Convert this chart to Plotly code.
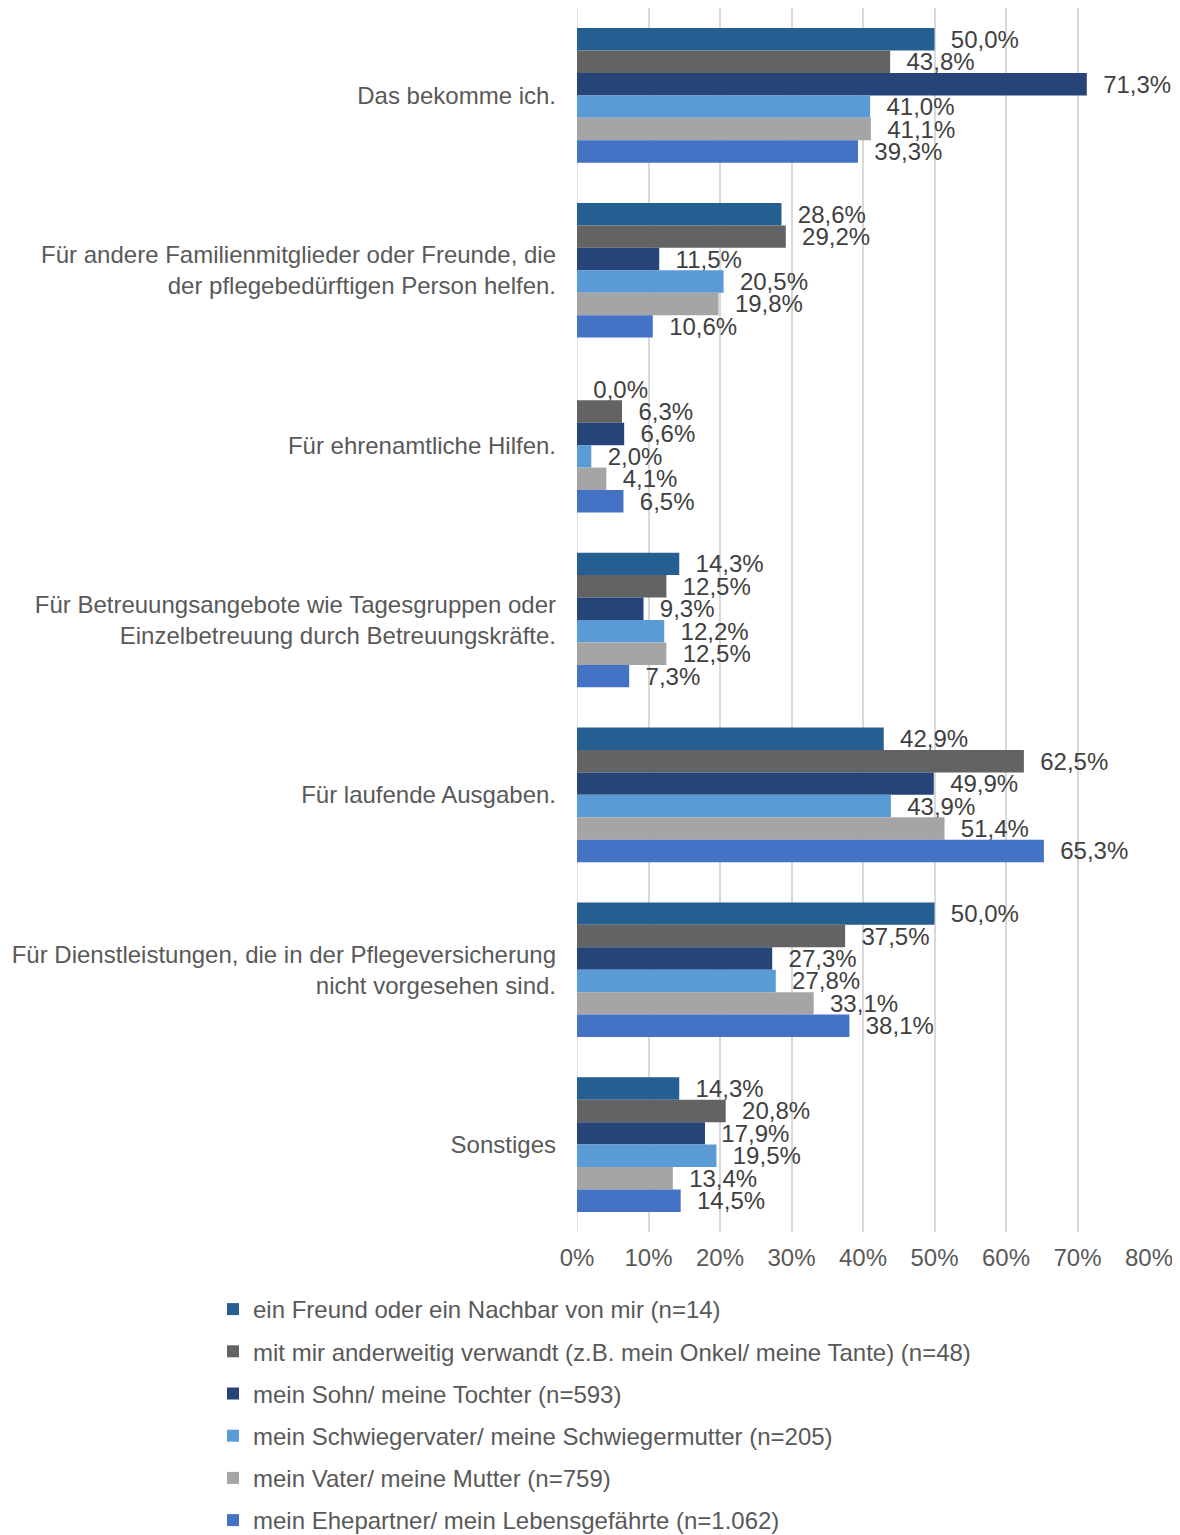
import plotly.graph_objects as go

categories = [
    "Das bekomme ich.",
    "Für andere Familienmitglieder oder Freunde, die<br>der pflegebedürftigen Person helfen.",
    "Für ehrenamtliche Hilfen.",
    "Für Betreuungsangebote wie Tagesgruppen oder<br>Einzelbetreuung durch Betreuungskräfte.",
    "Für laufende Ausgaben.",
    "Für Dienstleistungen, die in der Pflegeversicherung<br>nicht vorgesehen sind.",
    "Sonstiges",
]

series_names = [
    "ein Freund oder ein Nachbar von mir (n=14)",
    "mit mir anderweitig verwandt (z.B. mein Onkel/ meine Tante) (n=48)",
    "mein Sohn/ meine Tochter (n=593)",
    "mein Schwiegervater/ meine Schwiegermutter (n=205)",
    "mein Vater/ meine Mutter (n=759)",
    "mein Ehepartner/ mein Lebensgefährte (n=1.062)",
]

freund = [50.0, 28.6, 0.0, 14.3, 42.9, 50.0, 14.3]
verwandt = [43.8, 29.2, 6.3, 12.5, 62.5, 37.5, 20.8]
kind = [71.3, 11.5, 6.6, 9.3, 49.9, 27.3, 17.9]
schwieger = [41.0, 20.5, 2.0, 12.2, 43.9, 27.8, 19.5]
eltern = [41.1, 19.8, 4.1, 12.5, 51.4, 33.1, 13.4]
ehepartner = [39.3, 10.6, 6.5, 7.3, 65.3, 38.1, 14.5]

series_values = [freund, verwandt, kind, schwieger, eltern, ehepartner]
colors = ["#255E91", "#636363", "#264478", "#5B9BD5", "#A5A5A5", "#4472C4"]

tick_vals = [0, 10, 20, 30, 40, 50, 60, 70, 80]
tick_text = ["0%", "10%", "20%", "30%", "40%", "50%", "60%", "70%", "80%"]

FONT = "Liberation Sans, Arial, sans-serif"
FS = 24

fig = go.Figure()
for i, (name, vals, col) in enumerate(zip(series_names, series_values, colors)):
    fig.add_trace(go.Bar(
        y=categories, x=vals, name=name, orientation="h",
        marker=dict(color=col, line=dict(width=0)),
        texttemplate="\u00a0\u00a0%{x:.1f}%", textposition="outside",
        constraintext="none", cliponaxis=False,
        textfont=dict(family=FONT, size=FS, color="#404040"),
        legendgroup=f"g{i}",
    ))

fig.update_layout(
    width=1180, height=1535,
    barmode="group", bargap=0.23, bargroupgap=0,
    separators=",.",
    plot_bgcolor="white", paper_bgcolor="white",
    margin=dict(l=569, r=39, t=0, b=311, autoexpand=False),
    font=dict(family=FONT, size=FS, color="#595959"),
    xaxis=dict(range=[0, 80], tickmode="array", tickvals=tick_vals, ticktext=tick_text,
               showgrid=True, gridcolor="#D9D9D9", gridwidth=1.5,
               zeroline=False, showline=False, ticks="", automargin=False,
               ticklabelstandoff=9,
               tickfont=dict(size=FS, color="#595959")),
    yaxis=dict(autorange="reversed", showgrid=False, ticks="",
               showline=False, ticklabelstandoff=20, automargin=False,
               tickfont=dict(size=FS, color="#595959")),
    legend=dict(orientation="v", xref="container", yref="container",
                x=205 / 1180, y=1 - 1279 / 1535, xanchor="left", yanchor="top",
                traceorder="grouped", tracegroupgap=8,
                font=dict(size=FS, color="#595959"),
                itemwidth=30),
    showlegend=True,
)
fig.add_shape(type="line", xref="x", yref="paper", x0=0, x1=0, y0=0, y1=1,
              line=dict(color="#D9D9D9", width=1.5), layer="below")

fig.write_html("out.html")
